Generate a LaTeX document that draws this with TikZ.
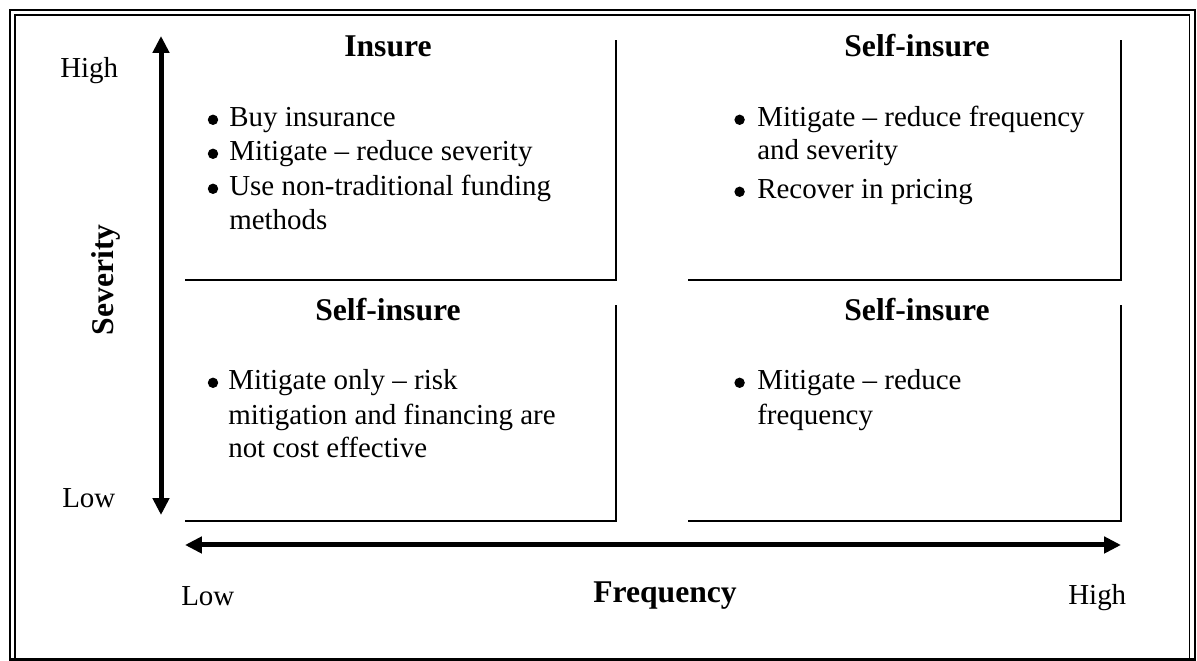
\documentclass[tikz,border=0pt]{standalone}
\usepackage{fontspec}
\setmainfont{Liberation Serif}
\usetikzlibrary{arrows.meta}

\tikzset{
  line/.style={font=\fontsize{20.6}{24}\selectfont, inner sep=0pt, anchor=base west},
  dot/.style={circle, fill, inner sep=0pt, minimum size=0.26cm},
  head/.style={font=\fontsize{22.5}{26}\selectfont\bfseries, inner sep=0pt, anchor=base},
  quad/.style={line width=0.05cm},
  axis/.style={line width=0.125cm, {Triangle[length=0.42cm,width=0.4cm]}-{Triangle[length=0.42cm,width=0.4cm]}}
}

\begin{document}
\begin{tikzpicture}
    \useasboundingbox (0,0) rectangle (29.925,16.525);

    % Draw double frame
    \draw[line width=0.07cm] (0.25,0.04) rectangle (29.875,16.275);
    \draw[line width=0.035cm] (0.375,0.04) rectangle (29.74,16.15);

    % Draw quadrant borders (bottom and right side only)
    \foreach \xa/\xb/\ya/\yb in {4.625/15.4/9.525/15.525, 17.2/28.025/9.525/15.525, 4.625/15.4/3.5/8.9, 17.2/28.025/3.5/8.9} {
      \draw[quad] (\xa,\ya) -- (\xb,\ya) -- (\xb,\yb);
    }

    % Quadrant titles
    \node[head] (tlhead) at (9.7,15.1) {Insure};
    \node[head] (trhead) at (22.925,15.1) {Self-insure};
    \node[head] (blhead) at (9.7,8.5) {Self-insure};
    \node[head] (brhead) at (22.925,8.5) {Self-insure};

    % Bullets
    \foreach \n/\x/\y in {tlb1/5.325/13.35, tlb2/5.325/12.5, tlb3/5.325/11.625, trb1/18.49/13.35, trb2/18.49/11.55, blb1/5.325/6.775, brb1/18.49/6.775} {
      \node[dot] (\n) at (\x,\y+0.18) {};
    }

    % Text lines
    \foreach \n/\x/\y/\t in {tl1/5.725/13.35/{Buy insurance}, tl2/5.725/12.5/{Mitigate – reduce severity}, tl3/5.725/11.625/{Use non-traditional funding}, tl4/5.725/10.775/{methods},
      tr1/18.925/13.35/{Mitigate – reduce frequency}, tr2/18.925/12.525/{and severity}, tr3/18.925/11.55/{Recover in pricing},
      bl1/5.7/6.775/{Mitigate only – risk}, bl2/5.7/5.9/{mitigation and financing are}, bl3/5.7/5.075/{not cost effective},
      br1/18.925/6.775/{Mitigate – reduce}, br2/18.925/5.9/{frequency}} {
      \node[line] (\n) at (\x,\y) {\t};
    }

    % Severity axis
    \coordinate (sevhigh) at (4.025,15.625);
    \coordinate (sevlow) at (4.025,3.65);
    \draw[axis] (sevlow) -- (sevhigh);
    \node[line] (sevhi) at (1.5,14.575) {High};
    \node[line] (sevlo) at (1.55,3.825) {Low};
    \node[head, rotate=90] (sevlabel) at (2.825,9.525) {Severity};

    % Frequency axis
    \coordinate (freqlow) at (4.625,2.9);
    \coordinate (freqhigh) at (28.025,2.9);
    \draw[axis] (freqlow) -- (freqhigh);
    \node[line] (frlo) at (4.525,1.375) {Low};
    \node[head] (frlabel) at (16.625,1.45) {Frequency};
    \node[line] (frhi) at (26.7,1.4) {High};

\end{tikzpicture}
\end{document}
